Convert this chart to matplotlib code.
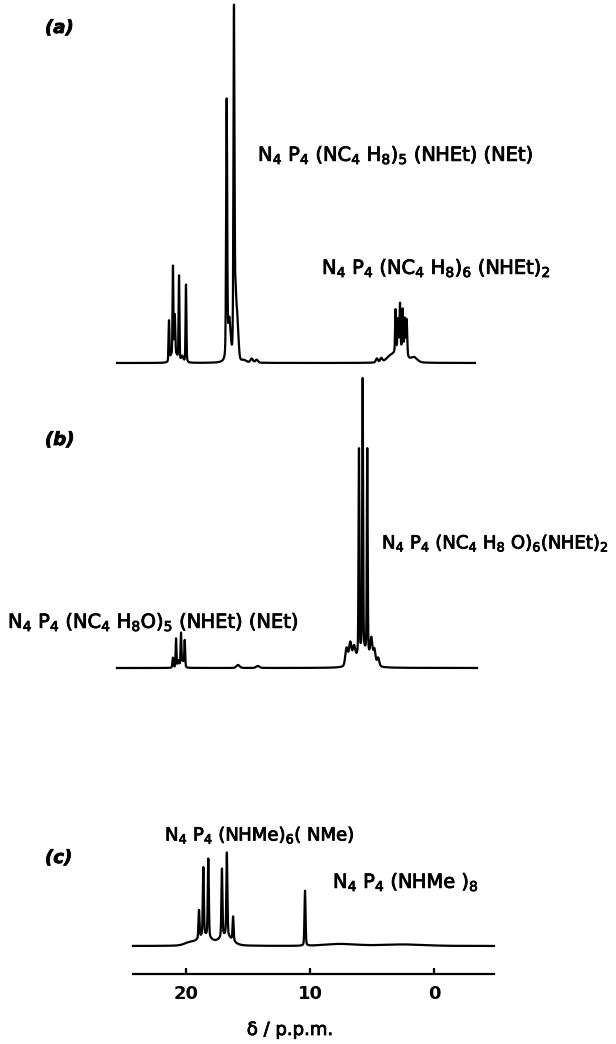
import numpy as np
import matplotlib
matplotlib.use("Agg")
import matplotlib.pyplot as plt
import matplotlib.patheffects as pe

W, H = 616, 1044
DPI = 100

# ---- data: peak lists (ppm, height in px above baseline, half-width ppm) ----
a_pos = [21.37, 21.2, 21.05, 20.9, 20.75, 20.56, 20.3, 20.0,
         16.72, 16.5, 16.13, 16.0, 15.85, 15.3, 14.7, 14.3,
         4.6, 4.25, 3.5, 3.1, 2.9, 2.74, 2.52, 2.35, 2.2, 2.7, 1.6]
a_hgt = [41, 6, 94, 45, 6, 86, 6, 78,
         258, 40, 345, 52, 38, 2, 4, 3,
         4, 4, 6, 42, 30, 44, 40, 34, 36, 14, 5]
a_wid = [0.04, 0.1, 0.04, 0.05, 0.1, 0.04, 0.1, 0.04,
         0.05, 0.12, 0.05, 0.08, 0.1, 0.2, 0.12, 0.12,
         0.1, 0.1, 0.4, 0.04, 0.05, 0.04, 0.04, 0.05, 0.05, 0.45, 0.3]

b_pos = [21.05, 20.8, 20.6, 20.4, 20.25, 20.1, 15.8, 14.2,
         7.05, 6.75, 6.45, 6.05, 5.75, 5.38, 5.05, 4.8, 4.5, 5.7]
b_hgt = [10, 29, 7, 34, 7, 27, 3, 2,
         18, 22, 15, 205, 272, 205, 22, 14, 8, 16]
b_wid = [0.05, 0.04, 0.08, 0.04, 0.08, 0.04, 0.15, 0.15,
         0.12, 0.12, 0.12, 0.04, 0.04, 0.04, 0.1, 0.1, 0.1, 0.6]

c_pos = [18.95, 18.6, 18.2, 18.5, 17.1, 16.7, 16.2, 16.8, 10.4, 19.7, 7.5, 2.5]
c_hgt = [28, 68, 78, 10, 68, 83, 24, 10, 55, 3, 2, 1.5]
c_wid = [0.05, 0.05, 0.05, 0.6, 0.05, 0.05, 0.05, 0.6, 0.05, 0.5, 1.5, 2.0]

tick_vals = [20, 10, 0]
tick_labels = ["20", "10", "0"]

# ---- pixel mapping ----
PX20, PXPPM = 186.0, 12.4
def px2ppm(x):
    return 20.0 - (x - PX20) / PXPPM

ETA = 0.3
def spectrum(x, pos, hgt, wid):
    y = np.zeros_like(x)
    for p, h, w in zip(pos, hgt, wid):
        d2 = ((x - p) / w) ** 2
        y += h * ((1 - ETA) * np.exp(-np.log(2) * d2) + ETA / (1 + d2))
    return y

fig = plt.figure(figsize=(W / DPI, H / DPI), dpi=DPI)

def add_axes_px(left, right, top, bottom):
    return fig.add_axes([left / W, 1 - bottom / H, (right - left) / W, (bottom - top) / H])

def panel(left, right, top, bottom, baseline, pos, hgt, wid):
    ax = add_axes_px(left, right, top, bottom)
    x0, x1 = px2ppm(left), px2ppm(right)
    x = np.linspace(x1, x0, 10000)
    y = spectrum(x, pos, hgt, wid)
    ax.plot(x, y, color="black", lw=1.6, solid_joinstyle="round", clip_on=False)
    ax.set_xlim(x0, x1)
    ax.set_ylim(-(bottom - baseline), baseline - top)
    for s in ax.spines.values():
        s.set_visible(False)
    ax.set_xticks([]); ax.set_yticks([])
    ax.patch.set_alpha(0)
    return ax

axa = panel(117, 475, 5, 370, 363, a_pos, a_hgt, a_wid)
axb = panel(117, 477, 375, 675, 668, b_pos, b_hgt, b_wid)
axc = panel(133, 494, 840, 974, 946, c_pos, c_hgt, c_wid)

heavy = [pe.withStroke(linewidth=0.6, foreground="black")]

# x axis for panel c
axc.spines["bottom"].set_visible(True)
axc.spines["bottom"].set_linewidth(1.6)
axc.set_xticks(tick_vals)
axc.set_xticklabels(tick_labels)
axc.tick_params(axis="x", direction="in", length=4, width=1.6, labelsize=13, pad=8)
for t in axc.get_xticklabels():
    t.set_fontweight("bold")

def ftext(x, y, s, fs=13, **kw):
    fig.text(x / W, 1 - y / H, s, fontsize=fs, ha="left", va="center",
             path_effects=heavy, **kw)

ftext(45, 28, "(a)", style="italic", fontweight="bold")
ftext(45, 440, "(b)", style="italic", fontweight="bold")
ftext(45, 858, "(c)", style="italic", fontweight="bold")

ftext(258, 155, r"N$_4$ P$_4$ (NC$_4$ H$_8$)$_5$ (NHEt) (NEt)", fs=14)
ftext(322, 268, r"N$_4$ P$_4$ (NC$_4$ H$_8$)$_6$ (NHEt)$_2$", fs=14)
ftext(8, 622, r"N$_4$ P$_4$ (NC$_4$ H$_8$O)$_5$ (NHEt) (NEt)", fs=14)
ftext(382, 543, r"N$_4$ P$_4$ (NC$_4$ H$_8$ O)$_6$(NHEt)$_2$")
ftext(165, 835, r"N$_4$ P$_4$ (NHMe)$_6$( NMe)")
ftext(333, 882, r"N$_4$ P$_4$ (NHMe )$_8$", fs=14)

fig.text(290 / W, 1 - 1030 / H, "δ / p.p.m.", fontsize=13, ha="center", va="center",
         path_effects=heavy)

fig.savefig("out.png", dpi=DPI)
